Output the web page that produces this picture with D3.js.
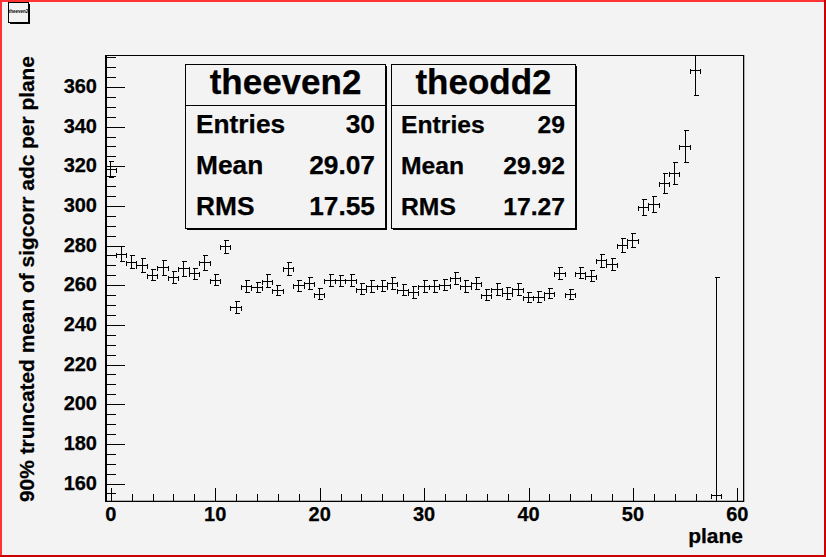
<!DOCTYPE html>
<html><head><meta charset="utf-8">
<script src="https://cdn.jsdelivr.net/npm/d3@7"></script>
<style>html,body{margin:0;padding:0;background:#f3f3f3}svg{display:block}text{font-family:"Liberation Sans",Arial,sans-serif;font-weight:bold;fill:#000;stroke:#000;stroke-width:.25}</style>
</head><body><div id="c"></div>
<script>
const planes=[0,1,2,3,4,5,6,7,8,9,10,11,12,13,14,15,16,17,18,19,20,21,22,23,24,25,26,27,28,29,30,31,32,33,34,35,36,37,38,39,40,41,42,43,44,45,46,47,48,49,50,51,52,53,54,55,56,58];
const means=[318.6,275.9,271.9,270.2,265.3,269.0,264.2,268.5,266.0,271.6,262.8,279.6,249.0,259.5,259.1,262.3,257.6,268.5,260.0,261.1,255.8,262.5,262.5,262.6,258.3,259.6,259.8,261.1,257.8,256.6,259.8,259.6,260.3,263.7,259.5,261.1,255.3,258.3,256.1,257.9,254.1,254.3,256.1,266.2,255.6,266.4,264.8,272.6,270.6,280.3,282.8,299.5,300.8,311.6,316.6,330.2,368.6,154.3];
const errors=[4.0,3.8,3.4,3.7,2.9,3.7,3.0,3.7,2.9,3.7,2.7,3.2,2.9,3.0,2.7,3.4,2.4,3.2,2.7,3.0,2.7,3.0,2.7,3.0,2.7,3.0,2.9,3.0,2.7,2.9,3.0,2.9,2.9,3.0,2.9,3.0,2.7,3.0,2.9,3.0,2.7,2.9,2.7,3.0,2.7,3.0,2.9,3.2,2.9,3.4,3.5,3.9,4.0,4.9,5.5,8.3,12.6,110];
const xMajor=[0,10,20,30,40,50,60];
const yMajor=[160,180,200,220,240,260,280,300,320,340,360];
const xTitle="plane", yTitle="90% truncated mean of sigcorr adc per plane";
const statsLabels=["Entries","Mean","RMS"];
const evenName="theeven2", evenStats=["30","29.07","17.55"];
const oddName="theodd2", oddStats=["29","29.92","17.27"];

const W=826,H=557;
const svg=d3.select("#c").append("svg").attr("width",W).attr("height",H);
svg.append("rect").attr("width",W).attr("height",H).attr("fill","#f3f3f3");
svg.append("path").attr("d",`M0 0H${W}V2H2V${H}H0Z`).attr("fill","#ff3333");
svg.append("path").attr("d",`M${W} ${H}H0V${H-2}H${W-2}V0H${W}Z`).attr("fill","#cc0000");
const btn=svg.append("g");
btn.append("rect").attr("x",10).attr("y",4).attr("width",20).attr("height",20).attr("fill","#000");
btn.append("rect").attr("x",8.5).attr("y",2.5).attr("width",20).attr("height",20).attr("fill","#f3f3f3").attr("stroke","#000");
btn.append("text").attr("x",18.5).attr("y",13).attr("text-anchor","middle").attr("font-size",4.5).style("stroke","none").text(evenName);

const L=106,R=743,T=55,B=501;
const x=d3.scaleLinear().domain([-0.5,60.5]).range([L-.4,R-.4]);
const y=d3.scaleLinear().domain([151.2,376.1]).range([B,T]);

const g=svg.append("g");
svg.append("defs").append("clipPath").attr("id","pc").append("rect").attr("x",L).attr("y",T).attr("width",R-L).attr("height",B-T);

g.append("line").attr("x1",R+1.5).attr("x2",R+1.5).attr("y1",T).attr("y2",B+1).attr("stroke","#b0b0b0");
g.append("line").attr("x1",L).attr("x2",R).attr("y1",B-.5).attr("y2",B-.5).attr("stroke","#b0b0b0");
g.append("rect").attr("x",L+.5).attr("y",T+.5).attr("width",R-L).attr("height",B-T).attr("fill","none").attr("stroke","#000");
g.append("line").attr("x1",L).attr("x2",L).attr("y1",T).attr("y2",B+1).attr("stroke","#000").attr("stroke-width",2);

const xMinor=d3.range(0,61,2);
const yMinor=d3.range(155,376,5);
const ax=g.append("g").attr("transform",`translate(0,${B})`)
  .call(d3.axisTop(x).tickValues(xMinor).tickSize(7).tickFormat(""));
const ax2=g.append("g").attr("transform",`translate(0,${B})`)
  .call(d3.axisTop(x).tickValues(xMajor).tickSize(13).tickFormat(""));
const ay=g.append("g").attr("transform",`translate(${L},0)`)
  .call(d3.axisRight(y).tickValues(yMinor).tickSize(10).tickFormat(""));
const ay2=g.append("g").attr("transform",`translate(${L},0)`)
  .call(d3.axisRight(y).tickValues(yMajor).tickSize(19).tickFormat(""));
[ax,ax2,ay,ay2].forEach(a=>{a.select(".domain").remove();a.attr("shape-rendering","crispEdges");a.selectAll("line").attr("stroke","#000");});
g.append("g").selectAll("text").data(xMajor).join("text")
  .attr("x",d=>x(d)).attr("y",521).attr("text-anchor","middle").attr("font-size",20).text(d=>d);
g.append("g").selectAll("text").data(yMajor).join("text")
  .attr("x",97).attr("y",d=>y(d)+6).attr("text-anchor","end").attr("font-size",20).text(d=>d);
g.append("text").attr("x",743).attr("y",543).attr("text-anchor","end").attr("font-size",21).text(xTitle);
g.append("text").attr("transform","translate(34,502) rotate(-90)").attr("font-size",21).attr("textLength",446).attr("lengthAdjust","spacingAndGlyphs").text(yTitle);

const pts=g.append("g").attr("clip-path","url(#pc)").attr("stroke","#000").attr("fill","none").attr("shape-rendering","crispEdges");
planes.forEach((p,i)=>{
  const cx=Math.floor(x(p))+.5, cy=Math.round(y(means[i]))+.5;
  const yt=Math.round(y(means[i]+errors[i]))+.5, yb=Math.round(y(means[i]-errors[i]))+.5;
  const xl=Math.floor(x(p-.5))+.5, xr=Math.floor(x(p+.5))+.5;
  const s=pts.append("g");
  s.append("line").attr("x1",xl).attr("x2",xr).attr("y1",cy).attr("y2",cy);
  s.append("line").attr("x1",cx).attr("x2",cx).attr("y1",yt).attr("y2",yb);
  s.append("line").attr("x1",cx-2).attr("x2",cx+3).attr("y1",yt).attr("y2",yt);
  s.append("line").attr("x1",cx-2).attr("x2",cx+3).attr("y1",yb).attr("y2",yb);
  s.append("line").attr("x1",xl).attr("x2",xl).attr("y1",cy-2).attr("y2",cy+3);
  s.append("line").attr("x1",xr).attr("x2",xr).attr("y1",cy-2).attr("y2",cy+3);
});

function stats(x0,x1,y0,y1,name,vals,rows,fs,titleFs,lx,rx){
  const b=svg.append("g");
  b.append("rect").attr("x",x0+2).attr("y",y0+2).attr("width",x1-x0).attr("height",y1-y0).attr("fill","#000");
  b.append("rect").attr("x",x0+.5).attr("y",y0+.5).attr("width",x1-x0).attr("height",y1-y0).attr("fill","#f3f3f3").attr("stroke","#000");
  b.append("line").attr("x1",x0).attr("x2",x1).attr("y1",105.5).attr("y2",105.5).attr("stroke","#000");
  b.append("text").attr("x",(x0+x1)/2+.5).attr("y",94).attr("text-anchor","middle").attr("font-size",titleFs).text(name);
  statsLabels.forEach((t,i)=>{
    b.append("text").attr("x",lx).attr("y",rows[i]).attr("font-size",fs).text(t);
    b.append("text").attr("x",rx).attr("y",rows[i]).attr("text-anchor","end").attr("font-size",fs).text(vals[i]);
  });
}
stats(185,385,64,228,evenName,evenStats,[133,174,215],26.3,35,196,375);
stats(391,575,64,228,oddName,oddStats,[132.5,173.5,215],24.7,35,401,565);
</script></body></html>
